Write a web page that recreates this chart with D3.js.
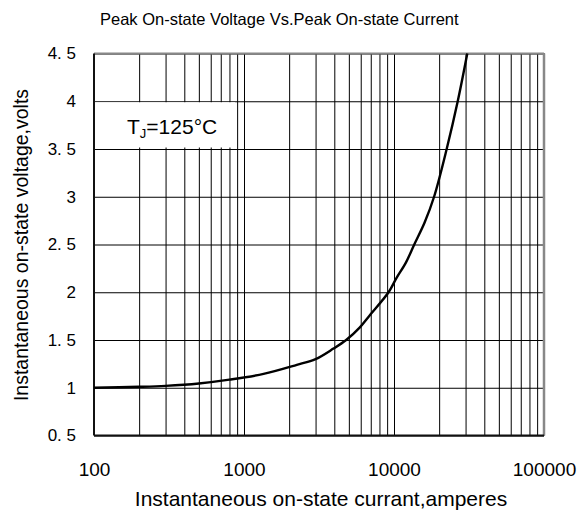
<!DOCTYPE html>
<html>
<head>
<meta charset="utf-8">
<script src="https://cdn.jsdelivr.net/npm/d3@7"></script>
<style>
  body { margin: 0; background: #fff; }
  text { font-family: "Liberation Sans", Arial, sans-serif; fill: #000; }
</style>
</head>
<body>
<div id="chart-area"></div>
<script>
// data
const current = [100, 200, 300, 500, 800, 1350, 2250, 3000, 3950, 4800, 5900, 6900, 9200, 10400, 12000, 13650, 16000, 18500, 22450, 26600, 30800];
const voltage = [1.00, 1.01, 1.02, 1.045, 1.085, 1.145, 1.24, 1.30, 1.41, 1.50, 1.63, 1.76, 2.00, 2.15, 2.31, 2.50, 2.73, 3.00, 3.50, 4.00, 4.50];
const xMajor = [100, 1000, 10000, 100000];
const yTicks = [0.5, 1, 1.5, 2, 2.5, 3, 3.5, 4, 4.5];
const yLabels = ["0. 5", "1", "1. 5", "2", "2. 5", "3", "3. 5", "4", "4. 5"];

const margin = {top: 53.5, right: 34, bottom: 79.5, left: 94};
const W = 578, H = 515;
const width = W - margin.left - margin.right;
const height = H - margin.top - margin.bottom;

const data = current.map((c, i) => ({c: c, v: voltage[i]}));

const svg = d3.select('#chart-area')
  .append('svg')
  .attr('width', W)
  .attr('height', H);

const g = svg.append('g')
  .attr('transform', `translate(${margin.left}, ${margin.top})`);

const x = d3.scaleLog().domain([100, 100000]).range([0, width]);
const y = d3.scaleLinear().domain([0.5, 4.5]).range([height, 0]);

// minor + major vertical gridlines
const xGridVals = [];
[100, 1000, 10000].forEach(d => { for (let k = 1; k < 10; k++) xGridVals.push(d * k); });
xGridVals.push(100000);

g.append('g')
  .attr('class', 'x-grid')
  .attr('transform', `translate(0, ${height})`)
  .call(d3.axisBottom(x).tickValues(xGridVals).tickSize(-height).tickFormat(''))
  .call(s => s.select('.domain').remove())
  .selectAll('line').attr('stroke', '#000').attr('stroke-width', 1);

g.append('g')
  .attr('class', 'y-grid')
  .call(d3.axisLeft(y).tickValues(yTicks).tickSize(-width).tickFormat(''))
  .call(s => s.select('.domain').remove())
  .selectAll('line').attr('stroke', '#000').attr('stroke-width', 1);

// white box behind the temperature label
g.append('rect')
  .attr('x', 1)
  .attr('y', y(4) + 1)
  .attr('width', x(900) - 3)
  .attr('height', y(3.5) - y(4) - 2.5)
  .attr('fill', '#fff');

const lbl = g.append('text')
  .attr('x', x(100) + 33)
  .attr('y', y(3.75) + 8.5)
  .attr('font-size', 21);
lbl.append('tspan').text('T');
lbl.append('tspan').attr('font-size', 13).attr('dy', 4).text('J');
lbl.append('tspan').attr('dy', -4).text('=125°C');

// frame
g.append('line').attr('x1', 0).attr('x2', width).attr('y1', 0).attr('y2', 0)
  .attr('stroke', '#888').attr('stroke-width', 2);
g.append('line').attr('x1', width).attr('x2', width).attr('y1', 0).attr('y2', height)
  .attr('stroke', '#888').attr('stroke-width', 2.5);
g.append('line').attr('x1', 0).attr('x2', width).attr('y1', height).attr('y2', height)
  .attr('stroke', '#111').attr('stroke-width', 2);
g.append('line').attr('x1', 0).attr('x2', 0).attr('y1', 0).attr('y2', height)
  .attr('stroke', '#111').attr('stroke-width', 2);

// curve
const line = d3.line()
  .x(d => x(d.c))
  .y(d => y(d.v))
  .curve(d3.curveCatmullRom.alpha(0.5));

g.append('path')
  .datum(data)
  .attr('d', line)
  .attr('fill', 'none')
  .attr('stroke', '#000')
  .attr('stroke-width', 2.4);

// axes labels
const xAxis = g.append('g')
  .attr('transform', `translate(0, ${height})`)
  .call(d3.axisBottom(x).tickValues(xMajor).tickSize(0).tickPadding(27).tickFormat(d3.format('d')));
xAxis.select('.domain').remove();
xAxis.selectAll('text').attr('font-size', 19).attr('font-family', '"Liberation Sans", Arial, sans-serif');

const yAxis = g.append('g')
  .call(d3.axisLeft(y).tickValues(yTicks).tickSize(0).tickPadding(18).tickFormat((d, i) => yLabels[i]));
yAxis.select('.domain').remove();
yAxis.selectAll('text').attr('font-size', 17).attr('font-family', '"Liberation Sans", Arial, sans-serif');

// titles
svg.append('text')
  .attr('x', 100)
  .attr('y', 25)
  .attr('font-size', 16.5)
  .text('Peak On-state Voltage Vs.Peak On-state Current');

svg.append('text')
  .attr('x', 321)
  .attr('y', 505.5)
  .attr('text-anchor', 'middle')
  .attr('font-size', 21)
  .text('Instantaneous on-state currant,amperes');

svg.append('text')
  .attr('transform', `translate(28, 245) rotate(-90)`)
  .attr('text-anchor', 'middle')
  .attr('font-size', 19.5)
  .text('Instantaneous on-state voltage,volts');
</script>
</body>
</html>
